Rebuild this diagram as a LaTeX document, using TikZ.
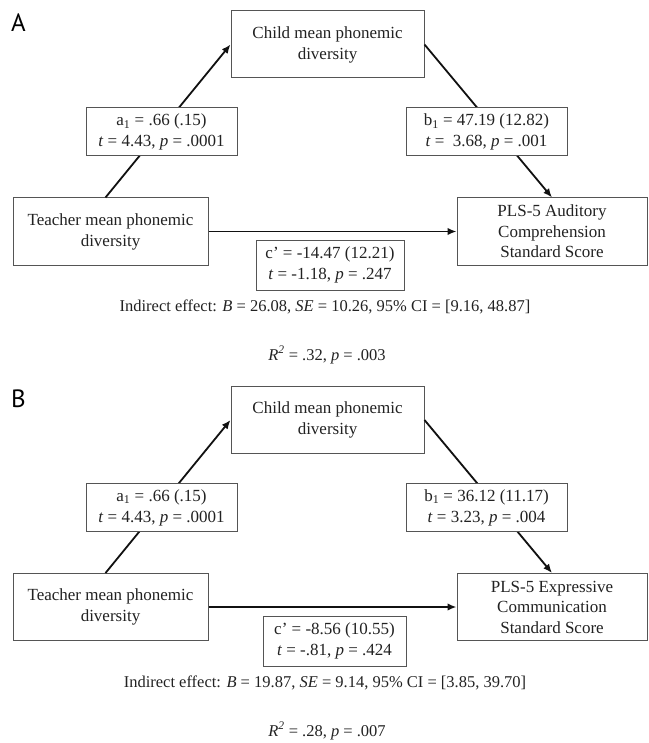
\documentclass[tikz,border=0pt]{standalone}
\usepackage{fontspec}
\setmainfont{Liberation Serif}
\newfontfamily\lblfont{PT Sans}
\usetikzlibrary{arrows.meta,calc}
\definecolor{boxgray}{HTML}{555555}
\definecolor{txt}{HTML}{222222}
\definecolor{lk}{HTML}{111111}
\begin{document}
\begin{tikzpicture}[x=1pt,y=-1pt,
  box/.style={draw=boxgray, line width=1pt, fill=white, inner sep=0pt, align=center,
    font=\fontsize{17}{21}\selectfont, text=txt},
  plain/.style={inner sep=0pt, align=center, font=\fontsize{16.5}{20}\selectfont, text=txt},
  panel/.style={inner sep=0pt, font=\lblfont\fontsize{25}{25}\selectfont, text=black},
  conn/.style={line width=1.8pt, draw=lk},
  arr/.style={conn, -{Latex[length=9pt,width=7.5pt]}}]
\useasboundingbox (0,0) rectangle (648,743);

% ---------------- Panel A ----------------
\node[panel] (labA) at (18.5,23) {A};
\node[box, minimum width=193pt, minimum height=67pt] (childA) at (327.5,44.5) {Child mean phonemic\\diversity};
\node[box, minimum width=195pt, minimum height=67pt] (teachA) at (110.5,231.5) {Teacher mean phonemic\\diversity};
\node[box, minimum width=190pt, minimum height=67pt, font=\fontsize{17}{20.5}\selectfont] (plsA) at (552,231.5) {PLS-5 Auditory\\Comprehension\\Standard Score};

\draw[arr] ([xshift=-5pt]teachA.north) -- (childA.west);
\draw[arr] (childA.east) -- (plsA.north);
\draw[arr] (teachA.east) -- (plsA.west);

\node[box, minimum width=151pt, minimum height=48pt] (a1A) at (161.5,132) {a\textsubscript{1} = .66 (.15)\\\textit{t} = 4.43, \textit{p} = .0001};
\node[box, minimum width=161pt, minimum height=48pt] (b1A) at (486.5,132) {b\textsubscript{1} = 47.19 (12.82)\\\textit{t} =\ \ 3.68, \textit{p} = .001};
\node[box, minimum width=148pt, minimum height=50pt] (cA) at (330,265) {c’ = -14.47 (12.21)\\\textit{t} = -1.18, \textit{p} = .247};
\node[plain] (indA) at (325,307) {Indirect effect: \textit{B} = 26.08, \textit{SE} = 10.26, 95\% CI = [9.16, 48.87]};
\node[plain] (r2A) at (327,355) {\textit{R\textsuperscript{2}} = .32, \textit{p} = .003};

% ---------------- Panel B ----------------
\node[panel] (labB) at (18.5,398.5) {B};
\node[box, minimum width=193pt, minimum height=67pt] (childB) at (327.5,420) {Child mean phonemic\\diversity};
\node[box, minimum width=195pt, minimum height=67pt] (teachB) at (110.5,607) {Teacher mean phonemic\\diversity};
\node[box, minimum width=190pt, minimum height=67pt, font=\fontsize{17}{20.5}\selectfont] (plsB) at (552,607) {PLS-5 Expressive\\Communication\\Standard Score};

\draw[arr] ([xshift=-5pt]teachB.north) -- (childB.west);
\draw[arr] (childB.east) -- (plsB.north);
\draw[arr] (teachB.east) -- (plsB.west);

\node[box, minimum width=151pt, minimum height=48pt] (a1B) at (161.5,507.5) {a\textsubscript{1} = .66 (.15)\\\textit{t} = 4.43, \textit{p} = .0001};
\node[box, minimum width=161pt, minimum height=48pt] (b1B) at (486.5,507.5) {b\textsubscript{1} = 36.12 (11.17)\\\textit{t} = 3.23, \textit{p} = .004};
\node[box, minimum width=143pt, minimum height=50pt] (cB) at (334.5,641) {c’ = -8.56 (10.55)\\\textit{t} = -.81, \textit{p} = .424};
\node[plain] (indB) at (325,683) {Indirect effect: \textit{B} = 19.87, \textit{SE} = 9.14, 95\% CI = [3.85, 39.70]};
\node[plain] (r2B) at (327,731) {\textit{R\textsuperscript{2}} = .28, \textit{p} = .007};
\end{tikzpicture}
\end{document}
